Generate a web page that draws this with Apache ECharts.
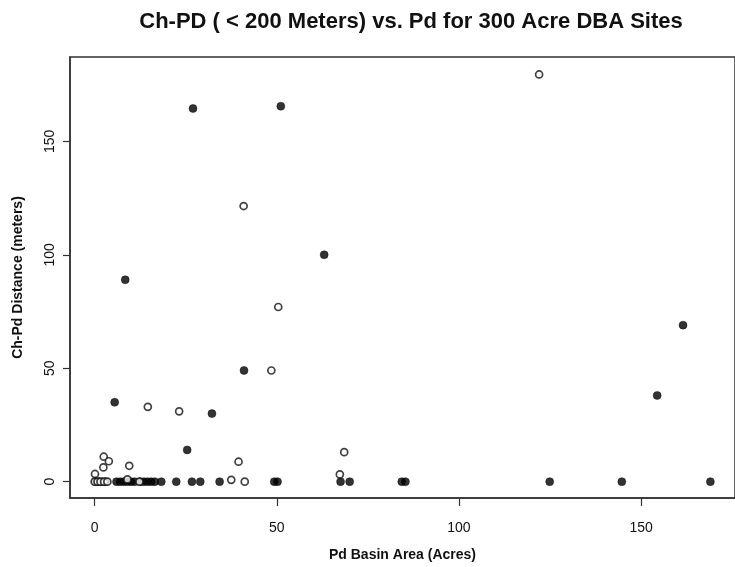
<!DOCTYPE html>
<html>
<head>
<meta charset="utf-8">
<script src="https://cdn.jsdelivr.net/npm/echarts@6/dist/echarts.min.js"></script>
<style>html,body{margin:0;padding:0;background:#fff}#c{width:735px;height:567px}</style>
</head>
<body>
<div id="c"></div>
<script>
const titleText = 'Ch-PD ( < 200 Meters) vs. Pd for 300 Acre DBA Sites';
const xName = 'Pd Basin Area (Acres)';
const yName = 'Ch-Pd Distance (meters)';
const xTicks = [0, 50, 100, 150];
const yTicks = [0, 50, 100, 150];

// filled (black) points
const filledX = [27.0, 51.1, 8.4, 63.0, 41.0, 161.5, 154.4, 5.5, 32.2, 25.4,
  0.3, 1.2, 2.0, 3.0, 6, 7, 8, 9, 10, 11, 12.5, 13.5, 14.5, 15.5, 16.5, 18.3,
  22.4, 26.7, 29.0, 34.3, 49.3, 50.2, 67.5, 70.0, 84.3, 85.3, 124.9, 144.7, 169.0];
const filledY = [164.5, 165.5, 89, 100, 49, 69, 38, 35, 30, 14,
  0, 0, 0, 0, 0, 0, 0, 0, 0, 0, 0, 0, 0, 0, 0, 0,
  0, 0, 0, 0, 0, 0, 0, 0, 0, 0, 0, 0, 0];

// open (hollow) points
const openX = [122, 40.9, 50.4, 48.5, 14.6, 23.2, 39.5, 68.5, 67.3, 2.5, 3.9, 2.4, 0.1, 9.5,
  37.5, 41.2, 0, 0.8, 1.6, 2.6, 3.5, 9.0, 12.3];
const openY = [179.5, 121.5, 77, 49, 33, 31, 8.8, 13, 3.2, 11, 9, 6.3, 3.4, 7,
  0.8, 0, 0, 0, 0, 0, 0, 1, 0];

const pair = (xs, ys) => xs.map((x, i) => [x, ys[i]]);
const xMinData = 0, xMaxData = 169, yMinData = 0, yMaxData = 180;
const xPad = (xMaxData - xMinData) * 0.04, yPad = (yMaxData - yMinData) * 0.04;

const font = '"Liberation Sans", Arial, sans-serif';
const chart = echarts.init(document.getElementById('c'));
chart.setOption({
  animation: false,
  backgroundColor: '#fff',
  title: {
    text: titleText, left: 406, top: 6, textAlign: 'center',
    textStyle: { fontFamily: font, fontSize: 22, fontWeight: 'bold', color: '#111' }
  },
  grid: { left: 70, top: 57, right: -5, bottom: 68, show: true, borderColor: '#333', borderWidth: 1.5, backgroundColor: '#fff' },
  xAxis: {
    type: 'value', min: xMinData - xPad, max: xMaxData + xPad,
    name: xName, nameLocation: 'middle', nameGap: 50,
    nameTextStyle: { fontFamily: font, fontSize: 14, fontWeight: 'bold', color: '#111' },
    axisLine: { show: true, onZero: false, lineStyle: { color: '#333', width: 1.5 } },
    axisTick: { show: true, length: 8, customValues: xTicks, lineStyle: { color: '#333', width: 1.2 } },
    axisLabel: { customValues: xTicks, margin: 23, fontFamily: font, fontSize: 14, color: '#111' },
    splitLine: { show: false }
  },
  yAxis: {
    type: 'value', min: yMinData - yPad, max: yMaxData + yPad,
    name: yName, nameLocation: 'middle', nameGap: 45,
    nameTextStyle: { fontFamily: font, fontSize: 14, fontWeight: 'bold', color: '#111' },
    axisLine: { show: true, onZero: false, lineStyle: { color: '#333', width: 1.5 } },
    axisTick: { show: true, length: 7, customValues: yTicks, lineStyle: { color: '#333', width: 1.2 } },
    axisLabel: { customValues: yTicks, rotate: 90, margin: 13, fontFamily: font, fontSize: 14, color: '#111' },
    splitLine: { show: false }
  },
  series: [
    { type: 'scatter', data: pair(filledX, filledY), symbol: 'circle', symbolSize: 8,
      itemStyle: { color: '#000', borderColor: '#000', borderWidth: 0.5 } },
    { type: 'scatter', data: pair(openX, openY), symbol: 'circle', symbolSize: 7,
      itemStyle: { color: '#fff', borderColor: '#111', borderWidth: 1.7 } }
  ]
});
</script>
</body>
</html>
